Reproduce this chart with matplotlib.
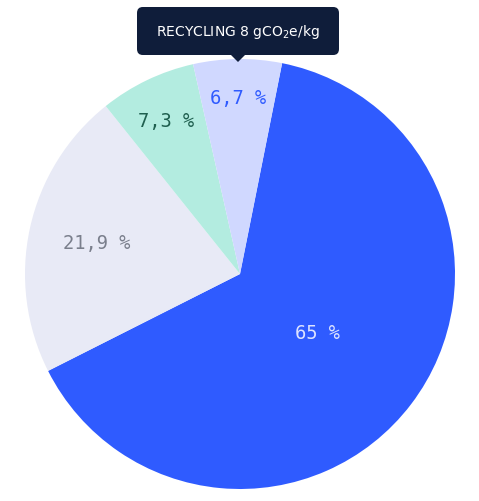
import matplotlib
matplotlib.use("Agg")
import matplotlib.pyplot as plt
import numpy as np
from matplotlib.patches import FancyBboxPatch, Polygon

labels = ["65 %", "21,9 %", "7,3 %", "6,7 %"]
values = [65, 21.9, 7.3, 6.7]
colors = ["#2f5bff", "#e8eaf6", "#b3ece0", "#d0d8ff"]
label_colors = ["#dde3ff", "#7a7f8c", "#1f5f4f", "#2f5bff"]
label_dist = [0.45, 0.68, 0.79, 0.82]
tooltip = "RECYCLING 8 gCO$_2$e/kg"

W, H = 479, 502
fig = plt.figure(figsize=(W/100, H/100), dpi=100)
cx, cy, r = 240, 275, 215
ax = fig.add_axes([(cx-r)/W, (H-cy-r)/H, 2*r/W, 2*r/H])
wedges, _ = ax.pie(values, colors=colors, startangle=78.7, counterclock=False)
for w, lab, c, d in zip(wedges, labels, label_colors, label_dist):
    a = np.deg2rad((w.theta1 + w.theta2) / 2)
    ax.text(d*np.cos(a), d*np.sin(a), lab, color=c, ha="center", va="center",
            family="DejaVu Sans Mono", fontsize=13.5)
ax.set_xlim(-1, 1); ax.set_ylim(-1, 1)
ax.set_aspect("auto")
ax.axis("off")

x0, y0, x1, y1 = 137, 8, 339, 56
fig.patches.append(FancyBboxPatch((x0/W, 1-y1/H), (x1-x0)/W, (y1-y0)/H,
    boxstyle="round,pad=0,rounding_size=0.012", transform=fig.transFigure,
    facecolor="#0f1d3a", edgecolor="none"))
fig.patches.append(Polygon([(231/W, 1-56/H), (245/W, 1-56/H), (238/W, 1-63/H)],
    closed=True, transform=fig.transFigure, facecolor="#0f1d3a", edgecolor="none"))
fig.text((x0+x1)/2/W, 1-(y0+y1)/2/H, tooltip, color="white", fontsize=10,
         ha="center", va="center", family="DejaVu Sans")
fig.savefig("out.png", dpi=100)
